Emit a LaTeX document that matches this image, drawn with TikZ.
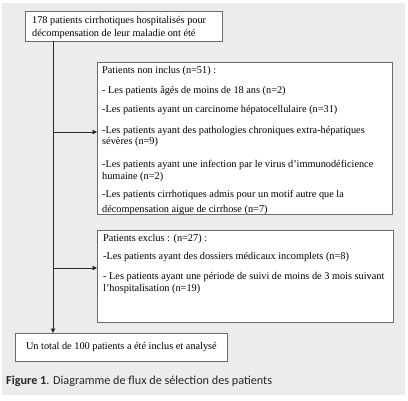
\documentclass[tikz,border=0pt]{standalone}
\usepackage{fontspec}
\setmainfont{Liberation Serif}
\newfontfamily\capfont{Carlito}
\usetikzlibrary{arrows.meta}
\definecolor{panel}{HTML}{ECECEC}
\definecolor{boxline}{HTML}{6A6A6A}
\definecolor{flow}{HTML}{2A2A2A}
\begin{document}
\begin{tikzpicture}[x=1pt,y=-1pt,
  box/.style={draw=boxline,line width=0.8pt,fill=white,inner sep=0pt,anchor=north west},
  txt/.style={anchor=base west,inner sep=0pt,font=\fontsize{10.3}{12}\selectfont,text=black},
  flowline/.style={draw=flow,line width=0.9pt},
  arrow/.style={flowline,-{Triangle[length=4.5pt,width=4.5pt]}}]
\useasboundingbox (0,0) rectangle (408,400);
\fill[panel] (2,3) rectangle (405,395);
% boxes
\node[box,minimum width=197pt,minimum height=30pt] (b1) at (25,11) {};
\node[box,minimum width=295pt,minimum height=152pt] (b2) at (97,62) {};
\node[box,minimum width=296pt,minimum height=92pt] (b3) at (97,230) {};
\node[box,minimum width=212pt,minimum height=28pt,font=\fontsize{10.3}{12}\selectfont] (b4) at (15,333) {Un total de 100 patients a été inclus et analysé};
% box 1 text
\node[txt] (t1a) at (32,23.5) {178 patients cirrhotiques hospitalisés pour};
\node[txt] (t1b) at (32,36) {décompensation de leur maladie ont été};
% box 2 text
\begin{scope}
\clip (97.5,62.5) rectangle (391.5,213.4);
\node[txt] (t2a) at (102,73.5) {Patients non inclus (n=51) :};
\node[txt] (t2b) at (102,93) {- Les patients âgés de moins de 18 ans (n=2)};
\node[txt] (t2c) at (102,112.5) {-Les patients ayant un carcinome hépatocellulaire (n=31)};
\node[txt] (t2d) at (102,133) {-Les patients ayant des pathologies chroniques extra-hépatiques};
\node[txt] (t2e) at (102,144.5) {sévères (n=9)};
\node[txt] (t2f) at (102,167.5) {-Les patients ayant une infection par le virus d’immunodéficience};
\node[txt] (t2g) at (102,179.5) {humaine (n=2)};
\node[txt] (t2h) at (102,197.5) {-Les patients cirrhotiques admis pour un motif autre que la};
\node[txt] (t2i) at (102,212.5) {décompensation aigue de cirrhose (n=7)};
\end{scope}
\draw[boxline,line width=0.8pt] (b2.north west) rectangle (b2.south east);
% box 3 text
\node[txt] (t3a) at (103,241.5) {Patients exclus : (n=27) :};
\node[txt] (t3b) at (103,259.5) {-Les patients ayant des dossiers médicaux incomplets (n=8)};
\node[txt] (t3c) at (103,279) {- Les patients ayant une période de suivi de moins de 3 mois suivant};
\node[txt] (t3d) at (103,291) {l’hospitalisation (n=19)};
% connectors
\coordinate (s1) at (53,41);
\coordinate (j2) at (53,132);
\coordinate (j3) at (53,268);
\draw[arrow] (s1) -- (b4.north -| s1);
\draw[arrow] (j2) -- (j2 -| b2.west);
\draw[arrow] (j3) -- (j3 -| b3.west);
% caption
\node[anchor=base west,inner sep=0pt,font=\capfont\fontsize{12.2}{14}\selectfont,text=black!85] (cap) at (6,384) {\textbf{Figure 1}. Diagramme de flux de sélection des patients};
\end{tikzpicture}
\end{document}
